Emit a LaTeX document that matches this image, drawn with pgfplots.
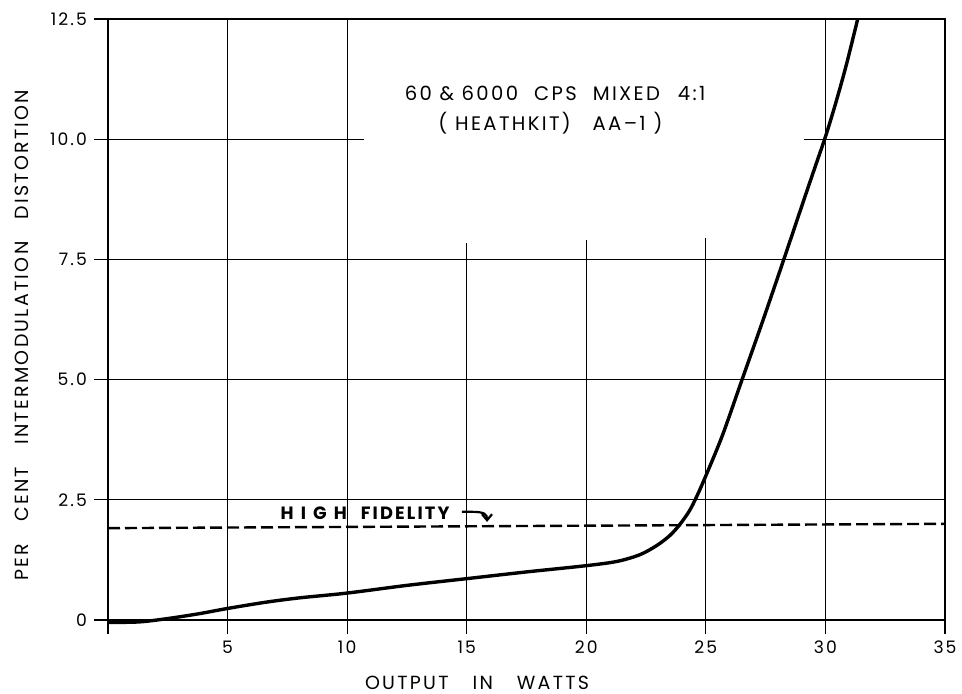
\documentclass[border=0pt]{standalone}
\usepackage{fontspec}
\setmainfont{Poppins}
\newfontfamily\labfont{Poppins}[LetterSpace=12]
\newfontfamily\wide{Poppins}[LetterSpace=40]
\usepackage{pgfplots}
\usepackage{pgfplotstable}
\pgfplotsset{compat=1.18}
\usetikzlibrary{arrows.meta}

\pgfplotstableread{
x y
0 -0.05
1.3 -0.04
2.5 0.03
3.8 0.13
5 0.24
6.6 0.37
8 0.46
10 0.56
12.5 0.72
15 0.86
17.5 1.0
20 1.13
21.3 1.22
22.25 1.36
22.95 1.55
23.5 1.76
23.9 1.98
24.3 2.26
24.6 2.55
25 3.0
25.7 3.85
26.5 4.98
27.4 6.25
28.26 7.5
29.1 8.74
29.6 9.47
30 10.05
30.4 10.7
30.85 11.5
31.35 12.5
}\curvedata

\pgfplotstableread{
x y
0 1.91
35 2.0
}\hifi

\begin{document}
\begin{tikzpicture}
\useasboundingbox (0,0) rectangle (481pt,347pt);
\begin{axis}[
  at={(54pt,37pt)}, anchor=south west,
  scale only axis, width=418.5pt, height=300.5pt,
  xmin=0, xmax=35, ymin=0, ymax=12.5,
  clip=false,
  axis line style={line width=0.6pt},
  xtick={0,5,...,35}, xticklabels={,5,10,15,20,25,30,35},
  ytick={0,2.5,5,7.5,10,12.5}, yticklabels={0,2.5,5.0,7.5,10.0,12.5},
  tick align=outside, xtick pos=bottom, ytick pos=left,
  major tick length=7pt,
  tick style={line width=0.6pt, black},
  ticklabel style={font=\labfont\fontsize{8.6}{10}\selectfont},
  xlabel={\labfont\fontsize{9.5}{11}\selectfont OUTPUT\hspace{12pt}IN\hspace{12pt}WATTS},
  ylabel={\labfont\fontsize{9.5}{11}\selectfont PER\hspace{11pt}CENT\hspace{11pt}INTERMODULATION\hspace{11pt}DISTORTION},
  xlabel style={at={(axis description cs:0.4409,0)}, anchor=base, yshift=-35pt, inner sep=0pt},
  ylabel style={at={(axis description cs:0,0.474)}, anchor=center, yshift=43pt, inner sep=0pt},
]
% partial grid
\draw[line width=0.6pt] (axis cs:0,2.5) -- (axis cs:35,2.5);
\draw[line width=0.6pt] (axis cs:0,5) -- (axis cs:35,5);
\draw[line width=0.6pt] (axis cs:0,7.5) -- (axis cs:35,7.5);
\draw[line width=0.6pt] (axis cs:0,10) -- (axis cs:10.7,10);
\draw[line width=0.6pt] (axis cs:29.1,10) -- (axis cs:35,10);
\draw[line width=0.6pt] (axis cs:5,0) -- (axis cs:5,12.5);
\draw[line width=0.6pt] (axis cs:10,0) -- (axis cs:10,12.5);
\draw[line width=0.6pt] (axis cs:30,0) -- (axis cs:30,12.5);
\draw[line width=0.6pt] (axis cs:15,0) -- (axis cs:15,7.85);
\draw[line width=0.6pt] (axis cs:20,0) -- (axis cs:20,7.9);
\draw[line width=0.6pt] (axis cs:25,0) -- (axis cs:25,7.95);

\addplot[black, line width=1.2pt, dash pattern=on 6pt off 2.5pt] table[x=x,y=y] {\hifi};
\addplot[black, line width=1.7pt, smooth, tension=0.5] table[x=x,y=y] {\curvedata};

\node[font=\labfont\fontsize{9.8}{11}\selectfont, anchor=center] at (axis cs:18.7,10.96)
  {60 \& 6000\hspace{8pt}CPS\hspace{8pt}MIXED\hspace{9pt}4:1};
\node[font=\labfont\fontsize{9.8}{11}\selectfont, anchor=center] at (axis cs:18.5,10.34)
  {(\hspace{4pt}HEATHKIT\hspace{1pt})\hspace{11pt}AA–1\hspace{4pt})};
\node[font=\bfseries\fontsize{8.9}{10}\selectfont, anchor=center] at (axis cs:10.75,2.23)
  {{\wide\bfseries HIGH}\hspace{7pt}{\labfont\bfseries FIDELITY}};
\draw[line width=1.1pt, -{Straight Barb[length=3pt,width=5pt]}] (axis cs:14.8,2.25) -- (axis cs:15.2,2.25)
  .. controls (axis cs:15.75,2.25) and (axis cs:15.85,2.2) .. (axis cs:15.85,2.04);
\end{axis}
\end{tikzpicture}
\end{document}
